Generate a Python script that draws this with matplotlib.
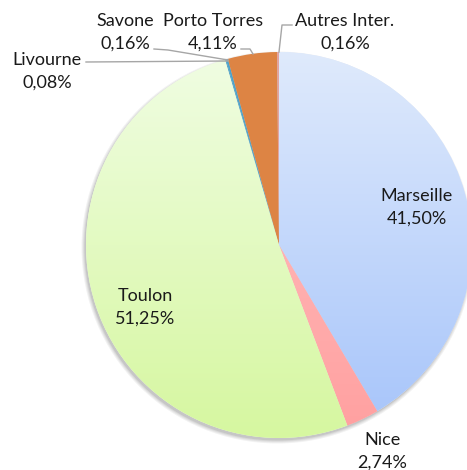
import numpy as np
import matplotlib
matplotlib.use('Agg')
import matplotlib.pyplot as plt
from matplotlib.patches import Circle

# data (clockwise from 12 o'clock)
ports = ['Marseille', 'Nice', 'Toulon', 'Livourne', 'Savone', 'Porto Torres', 'Autres Inter.']
shares = [41.50, 2.74, 51.25, 0.08, 0.16, 4.11, 0.16]
# gradient top / bottom colours per slice
top_cols = ['#dfeafc', '#ffc4c4', '#f0fde3', '#4ba3cc', '#4ba3cc', '#dd8444', '#e3a3a0']
bot_cols = ['#a6c4fa', '#ffa0a0', '#d6f7a0', '#4ba3cc', '#4ba3cc', '#dd8444', '#e3a3a0']

W, H = 467, 470
cx, cy, r = 279, H - 245, 193

plt.rcParams['font.family'] = ['Lato', 'DejaVu Sans']

fig = plt.figure(figsize=(W / 100, H / 100), dpi=100)
ax = fig.add_axes([0, 0, 1, 1])

# soft shadow
for i, a in enumerate([0.05, 0.05, 0.06, 0.08]):
    ax.add_patch(Circle((cx - 1.5, cy - 2.5), r + 3 - i, color='#000000', alpha=a, lw=0, zorder=0))

wedges, _ = ax.pie(shares, startangle=90, counterclock=False, center=(cx, cy), radius=r,
                   wedgeprops=dict(linewidth=0), frame=True)
ax.set_xlim(0, W)
ax.set_ylim(0, H)
ax.set_aspect('equal')
ax.axis('off')

for w, c1, c2 in zip(wedges, top_cols, bot_cols):
    w.set_facecolor(c1)
    if c1 != c2:
        t = np.linspace(0, 1, 256)[:, None]
        a = np.array(matplotlib.colors.to_rgb(c1))
        b = np.array(matplotlib.colors.to_rgb(c2))
        grad = (a * (1 - t) + b * t)[:, None, :]
        im = ax.imshow(grad, extent=(cx - r, cx + r, cy - r, cy + r), origin='upper',
                       aspect='auto', zorder=2, interpolation='bilinear')
        im.set_clip_path(w)

# labels (pixel positions, y from top)
lab_pos = {
    'Marseille': (417, 196),
    'Nice': (382, 440),
    'Toulon': (145, 296),
    'Livourne': (47, 60),
    'Savone': (125, 21),
    'Porto Torres': (213, 21),
    'Autres Inter.': (345, 21),
}
for p, s in zip(ports, shares):
    x, y = lab_pos[p]
    pct = f'{s:.2f}'.replace('.', ',') + '%'
    ax.text(x, H - y, p, ha='center', va='center', fontsize=13, color='#1a1a1a', zorder=5)
    ax.text(x, H - y - 23, pct, ha='center', va='center', fontsize=13, color='#1a1a1a', zorder=5)

# leader lines
leaders = [
    [(86, 62), (228, 61)],
    [(154, 49), (168, 50), (228, 60)],
    [(241, 49), (250, 49), (253, 54)],
    [(292, 25), (282, 25), (279, 52)],
]
for pts in leaders:
    xs = [q[0] for q in pts]
    ys = [H - q[1] for q in pts]
    ax.plot(xs, ys, color='#a6a6a6', lw=1, zorder=4)

fig.savefig('out.png', dpi=100)
